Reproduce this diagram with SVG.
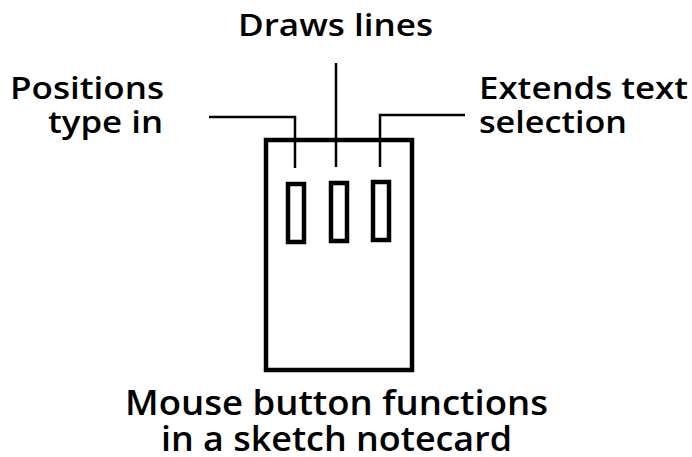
<svg xmlns="http://www.w3.org/2000/svg" width="692" height="457" viewBox="0 0 692 457">
<style>
text{font-family:"Open Sans","Noto Sans",sans-serif;font-weight:600;fill:#000}
.lbl{font-size:31px}
.cap{font-size:34px}
.ln{fill:none;stroke:#000;stroke-width:2.5}
.bx{fill:none;stroke:#000;stroke-width:4.5}
</style>
<rect width="692" height="457" fill="#fff"/>
<g id="connectors">
<polyline class="ln" points="209,117 295,117 295,168"/>
<line class="ln" x1="336" y1="63" x2="336" y2="167"/>
<polyline class="ln" points="465,115 380,115 380,167"/>
</g>
<g id="card">
<rect class="bx" x="266" y="140" width="146" height="230"/>
</g>
<g id="btn-left"><rect class="bx" x="288" y="184" width="16" height="58"/></g>
<g id="btn-middle"><rect class="bx" x="331" y="183" width="16" height="58"/></g>
<g id="btn-right"><rect class="bx" x="373" y="182" width="16" height="58"/></g>
<g id="label-middle"><text class="lbl" x="238" y="36" textLength="195" lengthAdjust="spacingAndGlyphs">Draws lines</text></g>
<g id="label-left"><text class="lbl" x="10" y="99" textLength="154" lengthAdjust="spacingAndGlyphs">Positions</text><text class="lbl" x="48" y="133" textLength="115" lengthAdjust="spacingAndGlyphs">type in</text></g>
<g id="label-right"><text class="lbl" x="479" y="99" textLength="209" lengthAdjust="spacingAndGlyphs">Extends text</text><text class="lbl" x="479" y="133" textLength="148" lengthAdjust="spacingAndGlyphs">selection</text></g>
<g id="caption"><text class="cap" x="125" y="415" textLength="423" lengthAdjust="spacingAndGlyphs">Mouse button functions</text><text class="cap" x="161" y="451" textLength="351" lengthAdjust="spacingAndGlyphs">in a sketch notecard</text></g>
</svg>
